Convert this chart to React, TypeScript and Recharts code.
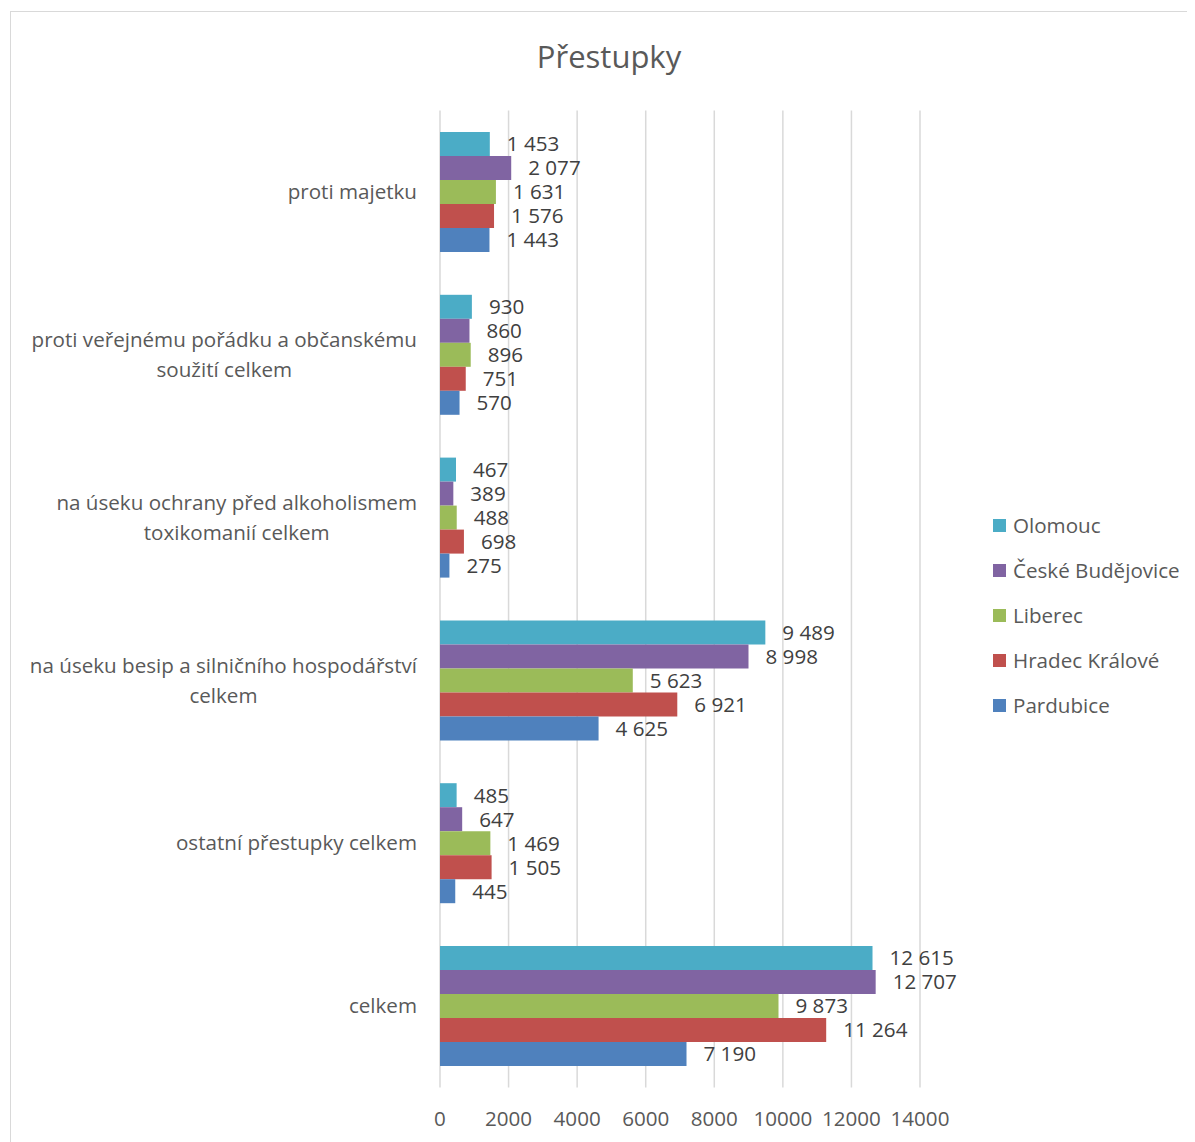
import { BarChart, Bar, XAxis, YAxis, CartesianGrid, LabelList } from 'recharts';

const categories = [
  'proti majetku',
  'proti veřejnému pořádku a občanskému\nsoužití celkem',
  'na úseku ochrany před alkoholismem\ntoxikomanií celkem',
  'na úseku besip a silničního hospodářství\ncelkem',
  'ostatní přestupky celkem',
  'celkem',
];

const olomouc = [1453, 930, 467, 9489, 485, 12615];
const budejovice = [2077, 860, 389, 8998, 647, 12707];
const liberec = [1631, 896, 488, 5623, 1469, 9873];
const hradec = [1576, 751, 698, 6921, 1505, 11264];
const pardubice = [1443, 570, 275, 4625, 445, 7190];

const xTicks = [0, 2000, 4000, 6000, 8000, 10000, 12000, 14000];

const series = [
  { key: 'olomouc', name: 'Olomouc', color: '#4BACC6', values: olomouc },
  { key: 'budejovice', name: 'České Budějovice', color: '#8064A2', values: budejovice },
  { key: 'liberec', name: 'Liberec', color: '#9BBB59', values: liberec },
  { key: 'hradec', name: 'Hradec Králové', color: '#C0504D', values: hradec },
  { key: 'pardubice', name: 'Pardubice', color: '#4F81BD', values: pardubice },
];

const data = categories.map((name, i) => {
  const row: Record<string, any> = { name };
  series.forEach((s) => (row[s.key] = s.values[i]));
  return row;
});

const FONT = '"Open Sans", sans-serif';
const FS = 20.6;

const fmt = (v: any) => String(v).replace(/\B(?=(\d{3})+(?!\d))/g, ' ');

let ctx: CanvasRenderingContext2D | null = null;
const measure = (t: string) => {
  if (!ctx) ctx = document.createElement('canvas').getContext('2d');
  if (!ctx) return t.length * 10;
  ctx.font = `${FS}px "Open Sans"`;
  return ctx.measureText(t).width;
};

const CategoryTick = (props: any) => {
  const { x, y, payload } = props;
  const lines: string[] = String(payload.value).split('\n');
  const lh = 30;
  const maxW = Math.max(...lines.map(measure));
  const start = y - ((lines.length - 1) * lh) / 2;
  return (
    <g>
      {lines.map((l, i) => (
        <text
          key={i}
          x={lines.length > 1 ? x - maxW / 2 : x}
          y={start + i * lh}
          dy="0.35em"
          textAnchor={lines.length > 1 ? 'middle' : 'end'}
          fontSize={FS}
          fontFamily={FONT}
          fill="#595959"
        >
          {l}
        </text>
      ))}
    </g>
  );
};

const LegendBox = () => (
  <div
    style={{
      position: 'absolute',
      left: 985,
      top: 494.5,
      fontFamily: FONT,
      fontSize: FS,
      color: '#595959',
    }}
  >
    {series.map((s) => (
      <div key={s.key} style={{ height: 45, display: 'flex', alignItems: 'center', whiteSpace: 'nowrap' }}>
        <span style={{ width: 13, height: 13, background: s.color, display: 'inline-block', marginRight: 7 }} />
        {s.name}
      </div>
    ))}
  </div>
);

export default function App() {
  return (
    <div style={{ position: 'relative', width: 1187, height: 1134, overflow: 'hidden', background: '#fff' }}>
      <div
        style={{
          position: 'absolute',
          left: 2,
          top: 3,
          width: 1400,
          height: 1400,
          border: '1.5px solid #d9d9d9',
          boxSizing: 'border-box',
        }}
      />
      <div
        style={{
          position: 'absolute',
          left: 0,
          width: 1202,
          top: 27,
          textAlign: 'center',
          fontFamily: FONT,
          fontSize: 31,
          color: '#595959',
        }}
      >
        Přestupky
      </div>
      <div style={{ position: 'absolute', left: 0, top: 0 }}>
        <BarChart
          width={1187}
          height={1134}
          data={data}
          layout="vertical"
          margin={{ top: 102.6, right: 275, bottom: 24.6, left: 0 }}
          barCategoryGap={21.4}
          barGap={0}
        >
          <CartesianGrid horizontal={false} stroke="#d9d9d9" strokeWidth={1.5} />
          <XAxis
            type="number"
            domain={[0, 14000]}
            ticks={xTicks}
            interval={0}
            axisLine={false}
            tickLine={false}
            tickSize={0}
            tickMargin={24}
            height={30}
            tick={{ fontSize: FS, fontFamily: FONT, fill: '#595959' }}
          />
          <YAxis
            type="category"
            dataKey="name"
            width={432}
            axisLine={false}
            tickLine={false}
            tickSize={0}
            tickMargin={23}
            interval={0}
            tick={<CategoryTick />}
          />
          {series.map((s) => (
            <Bar key={s.key} dataKey={s.key} name={s.name} fill={s.color} isAnimationActive={false}>
              <LabelList
                dataKey={s.key}
                position="right"
                offset={17}
                formatter={fmt}
                style={{ fontSize: FS, fontFamily: FONT, fill: '#404040' }}
              />
            </Bar>
          ))}
        </BarChart>
      </div>
      <LegendBox />
    </div>
  );
}
